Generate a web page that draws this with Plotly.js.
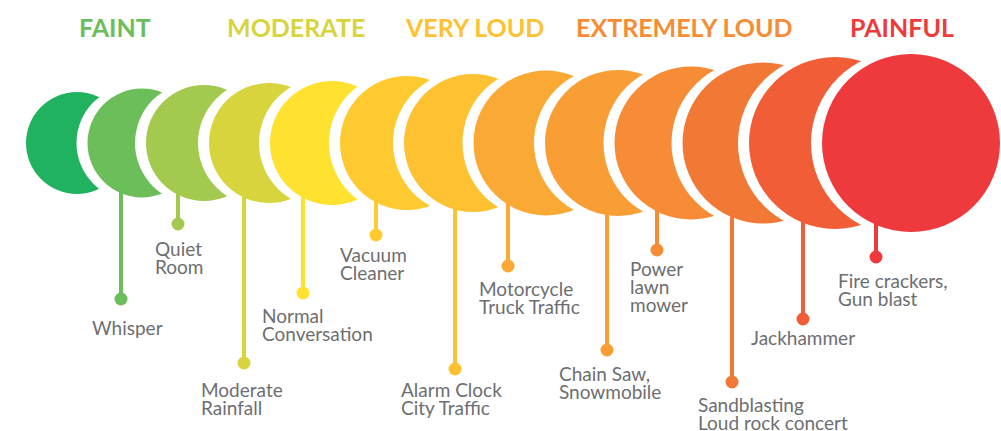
<!DOCTYPE html>
<html><head><meta charset="utf-8">
<script src="https://cdn.plot.ly/plotly-3.0.1.min.js"></script>
<style>html,body{margin:0;padding:0;background:#fff}#chart{width:1001px;height:431px}</style>
</head><body><div id="chart"></div>
<script>
// ---- data ----
const levels = ['FAINT', 'MODERATE', 'VERY LOUD', 'EXTREMELY LOUD', 'PAINFUL'];
const levelColors = ['#6BBE5A', '#D8D43D', '#FEC132', '#F68C35', '#EE3A3D'];
const sources = ['', 'Whisper', 'Quiet<br>Room', 'Moderate<br>Rainfall', 'Normal<br>Conversation',
  'Vacuum<br>Cleaner', 'Alarm Clock<br>City Traffic', 'Motorcycle<br>Truck Traffic',
  'Chain Saw,<br>Snowmobile', 'Power<br>lawn<br>mower', 'Sandblasting<br>Loud rock concert',
  'Jackhammer', 'Fire crackers,<br>Gun blast'];
const circleColors = ['#21B25F', '#6BBE5A', '#A3C94F', '#D8D43D', '#FFE12F', '#FFCA2F', '#FEC132',
  '#F9A934', '#F89E35', '#F68C35', '#F27836', '#F05D37', '#EE3A3D'];

// ---- layout geometry (pixel space of the axes) ----
const cx = [77, 142, 204, 269, 332, 407, 473, 546, 618, 691, 763, 835, 911];
const cr = [51, 54.5, 58, 60, 62, 67, 69, 72.5, 73, 76.5, 80.5, 86, 89];
const cy = 143;
const stemX = [null, 121, 178, 244, 303, 376, 455, 508, 607, 657, 732, 803, 876];
const dotY = [null, 299, 224, 363, 293, 235, 369, 266, 350, 250, 382, 319, 257];
const labX = [null, 91, 154, 200, 261, 339, 400, 478, 558, 629, 697, 750, 837];
const labY = [null, 327, 248, 389, 315, 254, 389, 288, 373, 268, 404, 337, 280];
const lineGap = 18.2;
const levelX = [115, 296, 474, 684, 902];

const shapes = [];
const annotations = [];
for (let i = 0; i < cx.length; i++) {
  if (i > 0) {
    shapes.push({type: 'circle', xref: 'x', yref: 'y', line: {width: 0}, fillcolor: '#FFFFFF',
      x0: cx[i] - 8 - cr[i] - 3, x1: cx[i] - 8 + cr[i] + 3, y0: cy - cr[i] - 3, y1: cy + cr[i] + 3});
  }
  if (stemX[i] !== null) {
    shapes.push({type: 'line', xref: 'x', yref: 'y', x0: stemX[i], x1: stemX[i], y0: cy, y1: dotY[i],
      line: {color: circleColors[i], width: 4}});
    shapes.push({type: 'circle', xref: 'x', yref: 'y', line: {width: 0}, fillcolor: circleColors[i],
      x0: stemX[i] - 6.5, x1: stemX[i] + 6.5, y0: dotY[i] - 6.5, y1: dotY[i] + 6.5});
    sources[i].split('<br>').forEach(function (ln, j) {
      annotations.push({x: labX[i], y: labY[i] + j * lineGap, xref: 'x', yref: 'y', xanchor: 'left',
        yanchor: 'middle', align: 'left', showarrow: false, text: ln, borderpad: 0,
        font: {family: 'Lato, sans-serif', size: 19, color: '#6D6E71'}});
    });
  }
  shapes.push({type: 'circle', xref: 'x', yref: 'y', line: {width: 0}, fillcolor: circleColors[i],
    x0: cx[i] - cr[i], x1: cx[i] + cr[i], y0: cy - cr[i], y1: cy + cr[i]});
}
for (let k = 0; k < levels.length; k++) {
  annotations.push({x: levelX[k], y: 27, xref: 'x', yref: 'y', xanchor: 'center', yanchor: 'middle',
    showarrow: false, text: '<b>' + levels[k] + '</b>',
    font: {family: 'Lato, sans-serif', size: 25, color: levelColors[k]}});
}

const layout = {
  width: 1001, height: 431, margin: {l: 0, r: 0, t: 0, b: 0},
  paper_bgcolor: '#FFFFFF', plot_bgcolor: '#FFFFFF', showlegend: false,
  xaxis: {range: [0, 1001], visible: false, fixedrange: true},
  yaxis: {range: [431, 0], visible: false, fixedrange: true},
  shapes: shapes, annotations: annotations
};
Plotly.newPlot('chart', [{x: [], y: [], type: 'scatter', mode: 'markers', hoverinfo: 'skip'}], layout,
  {staticPlot: true, displayModeBar: false});
</script></body></html>
